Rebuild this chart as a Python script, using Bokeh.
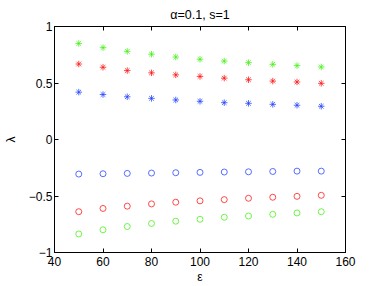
from bokeh.plotting import figure
from bokeh.models import LinearAxis, FixedTicker, Range1d
from bokeh.embed import file_html
from bokeh.resources import INLINE

# Data
eps = [50, 60, 70, 80, 90, 100, 110, 120, 130, 140, 150]
green_star = [0.85, 0.813, 0.78, 0.755, 0.73, 0.71, 0.694, 0.68, 0.665, 0.654, 0.642]
red_star = [0.668, 0.639, 0.61, 0.59, 0.572, 0.558, 0.543, 0.529, 0.517, 0.509, 0.497]
blue_star = [0.419, 0.398, 0.378, 0.364, 0.35, 0.338, 0.326, 0.32, 0.311, 0.303, 0.294]
blue_circ = [-0.306, -0.303, -0.30, -0.297, -0.294, -0.291, -0.288, -0.286, -0.283, -0.28, -0.28]
red_circ = [-0.639, -0.61, -0.59, -0.57, -0.555, -0.543, -0.532, -0.52, -0.511, -0.503, -0.494]
green_circ = [-0.836, -0.799, -0.77, -0.743, -0.723, -0.706, -0.688, -0.677, -0.662, -0.65, -0.639]

x_ticks = [40, 60, 80, 100, 120, 140, 160]
y_ticks = [-1, -0.5, 0, 0.5, 1]
title_text = "α=0.1, s=1"
x_label = "ε"
y_label = "λ"

FONT = "Liberation Sans"

p = figure(width=382, height=286, x_range=Range1d(40, 160), y_range=Range1d(-1, 1),
           output_backend="svg", toolbar_location=None,
           x_axis_location=None, y_axis_location=None,
           min_border_left=49, min_border_right=37, min_border_top=24, min_border_bottom=32)
p.grid.visible = False
p.outline_line_color = "black"
p.background_fill_color = "white"
p.border_fill_color = "white"

p.title.text = title_text
p.title.align = "center"
p.title.text_font = FONT
p.title.text_font_size = "12.5px"
p.title.text_font_style = "normal"
p.title.text_color = "black"
p.title.standoff = 10


def style_axis(ax, labels=True):
    ax.major_tick_in = 4
    ax.major_tick_out = 0
    ax.minor_tick_line_color = None
    ax.axis_line_color = "black"
    ax.major_tick_line_color = "black"
    ax.major_label_text_font = FONT
    ax.major_label_text_font_size = "12px" if labels else "0px"
    ax.major_label_text_color = "black" if labels else None
    ax.major_label_standoff = 3 if labels else 0
    ax.axis_label_text_font = FONT
    ax.axis_label_text_font_size = "12px"
    ax.axis_label_text_font_style = "normal"
    ax.axis_label_text_color = "black"


xb = LinearAxis(ticker=FixedTicker(ticks=x_ticks), axis_label=x_label)
style_axis(xb)
xb.major_label_standoff = 4
xb.axis_label_standoff = 1
p.add_layout(xb, "below")
xt = LinearAxis(ticker=FixedTicker(ticks=x_ticks))
style_axis(xt, labels=False)
p.add_layout(xt, "above")
yl = LinearAxis(ticker=FixedTicker(ticks=y_ticks), axis_label=y_label)
style_axis(yl)
yl.major_label_standoff = 2
yl.axis_label_standoff = 8
p.add_layout(yl, "left")
yr = LinearAxis(ticker=FixedTicker(ticks=y_ticks))
style_axis(yr, labels=False)
p.add_layout(yr, "right")

BLUE, RED, GREEN = "#2040ff", "#ff1010", "#40f010"
for ys, c in [(green_star, GREEN), (red_star, RED), (blue_star, BLUE)]:
    p.scatter(eps, ys, marker="asterisk", size=6.5, line_color=c, line_width=1, line_alpha=0.75)
for ys, c in [(blue_circ, BLUE), (red_circ, RED), (green_circ, GREEN)]:
    p.scatter(eps, ys, marker="circle", size=6, line_color=c, fill_color=None,
              line_width=1, line_alpha=0.75)

open("out.html", "w").write(file_html(p, INLINE))
